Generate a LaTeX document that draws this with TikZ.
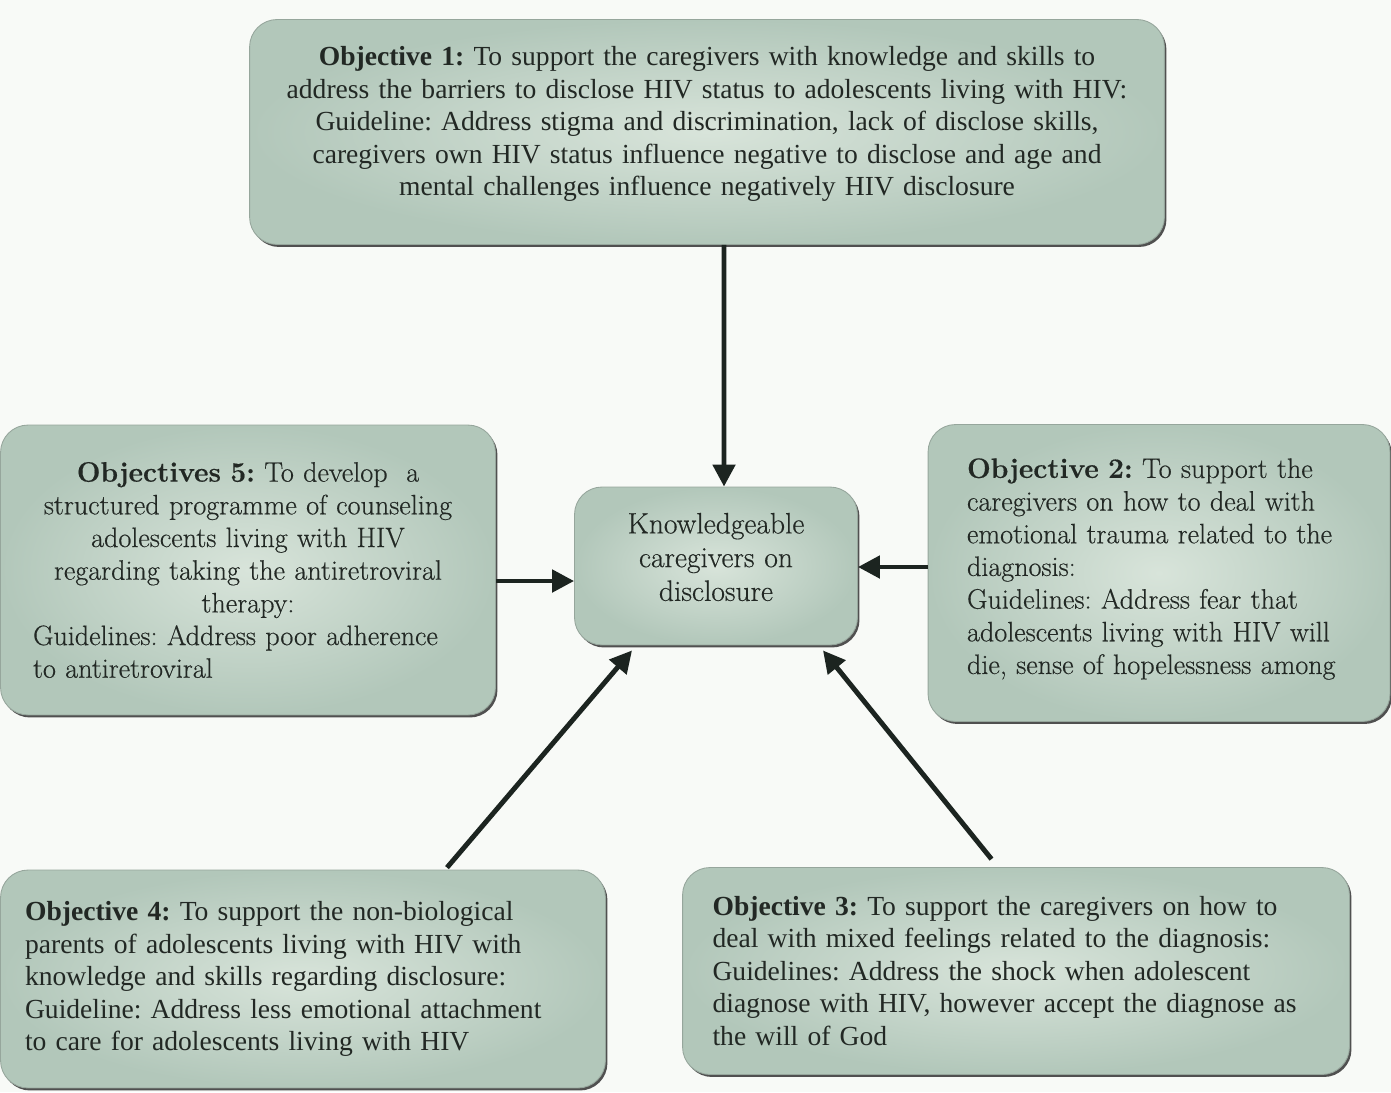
\documentclass[tikz,border=0pt]{standalone}
\usepackage{fontspec}
\newfontfamily\timesfont{Liberation Serif}
\newfontfamily\bookfont[FakeBold=0.4]{Latin Modern Roman}
\usetikzlibrary{arrows.meta,shadows}
\definecolor{boxlight}{RGB}{216,228,218}
\definecolor{boxdark}{RGB}{178,199,186}
\definecolor{boxline}{RGB}{150,166,156}
\definecolor{arrowcol}{RGB}{28,36,32}
\definecolor{inkcol}{RGB}{34,40,36}
\definecolor{pagebg}{RGB}{248,250,247}
\newcommand\timestext{\timesfont\fontsize{15.7}{18.5}\selectfont\frenchspacing}
\newcommand\booktext{\bookfont\fontsize{16}{18.6}\selectfont\frenchspacing}
\newcommand\midline[1]{\makebox[\hsize][c]{#1}}
\tikzset{
  objbox/.style={draw=boxline, line width=0.5pt, rounded corners=0.55cm,
    inner color=boxlight, outer color=boxdark, inner sep=0pt, text=inkcol,
    drop shadow={shadow xshift=0.04cm, shadow yshift=-0.05cm, fill=black!80, opacity=0.85}},
  conn/.style={draw=arrowcol, line width=2.8pt, -{Triangle[length=0.44cm,width=0.44cm]}}
}
\begin{document}
\begin{tikzpicture}[x=0.02cm, y=-0.02cm]
  \fill[pagebg] (0,0) rectangle (1391,1092);
  \useasboundingbox (0,0) rectangle (1391,1092);

  % objective boxes
  \node[objbox, minimum width=18.3cm, minimum height=4.5cm, text width=17.2cm, align=center, font=\timestext] (obj1) at (707,132)
    {\textbf{Objective 1:} To support the caregivers with knowledge and skills to\\
     address the barriers to disclose HIV status to adolescents living with HIV:\\
     Guideline: Address stigma and discrimination, lack of disclose skills,\\
     caregivers own HIV status influence negative to disclose and age and\\
     mental challenges influence negatively HIV disclosure\par\vspace*{0.32cm}};
  \node[objbox, minimum width=5.66cm, minimum height=3.16cm, text width=5cm, align=center, font=\booktext\fontsize{16.8}{19.2}\selectfont] (hub) at (716,566)
    {Knowledgeable\\ caregivers on\\ disclosure\par\vspace*{0.36cm}};
  \node[objbox, minimum width=9.9cm, minimum height=5.8cm, text width=8.6cm, align=left, font=\booktext] (obj5) at (248,570)
    {\midline{\textbf{Objectives 5:} To develop~ a}\\ \midline{structured programme of counseling}\\
     \midline{adolescents living with HIV}\\ \midline{regarding taking the antiretroviral}\\ \midline{therapy:}\\
     Guidelines: Address poor adherence\\ to antiretroviral};
  \node[objbox, minimum width=9.24cm, minimum height=5.94cm, text width=7.68cm, align=left, font=\booktext] (obj2) at (1159,573)
    {\textbf{Objective 2:} To support the\\ caregivers on how to deal with\\
     emotional trauma related to the\\ diagnosis:\\ Guidelines: Address fear that\\
     adolescents living with HIV will\\ die, sense of hopelessness among\par\vspace*{0.16cm}};
  \node[objbox, minimum width=12.1cm, minimum height=4.36cm, text width=11.12cm, align=left, font=\timestext] (obj4) at (303,979)
    {\textbf{Objective 4:} To support the non-biological\\
     parents of adolescents living with HIV with\\
     knowledge and skills regarding disclosure:\\
     Guideline: Address less emotional attachment\\
     to care for adolescents living with HIV};
  \node[objbox, minimum width=13.34cm, minimum height=4.14cm, text width=12.14cm, align=left, font=\timestext] (obj3) at (1016,971)
    {\textbf{Objective 3:} To support the caregivers on how to\\
     deal with mixed feelings related to the diagnosis:\\
     Guidelines: Address the shock when adolescent\\
     diagnose with HIV, however accept the diagnose as\\
     the will of God};

  % arrows into the hub
  \draw[conn] ([xshift=0.34cm]obj1.south) -- ([xshift=0.16cm]hub.north);
  \draw[conn] ([yshift=-0.22cm]obj5.east) -- ([yshift=-0.22cm]obj5.east -| hub.west);
  \draw[conn] ([yshift=0.12cm]obj2.west) -- ([yshift=0.12cm]obj2.west -| hub.east);
  \draw[conn] ([xshift=2.88cm,yshift=0.04cm]obj4.north) -- ([xshift=-1.68cm,yshift=-0.1cm]hub.south);
  \draw[conn] ([xshift=-0.49cm,yshift=0.16cm]obj3.north) -- ([xshift=2.14cm,yshift=-0.1cm]hub.south);
\end{tikzpicture}
\end{document}
